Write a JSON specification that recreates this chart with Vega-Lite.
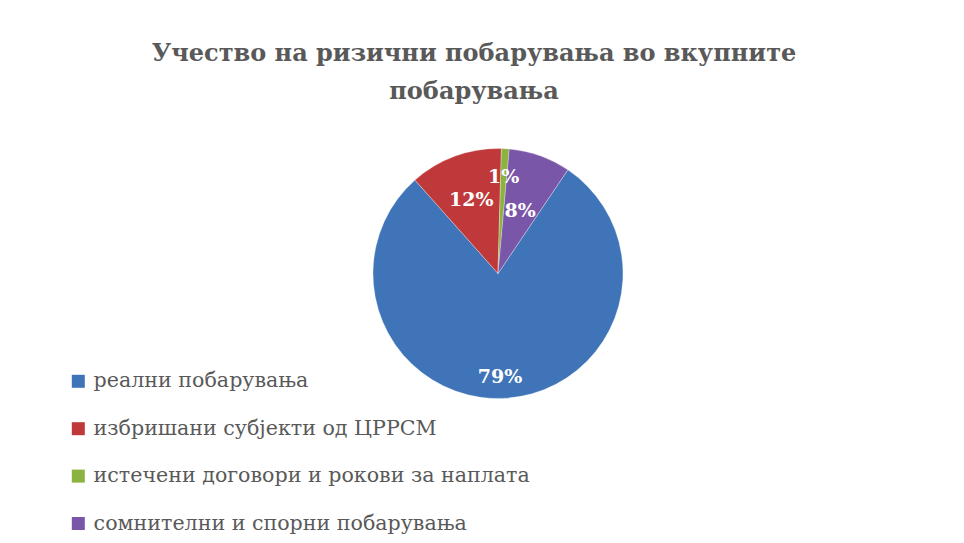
{
  "$schema": "https://vega.github.io/schema/vega-lite/v6.json",
  "width": 946,
  "height": 539,
  "autosize": "none",
  "padding": {"left": 25, "top": 4, "right": 0, "bottom": 0},
  "background": "white",
  "config": {"view": {"stroke": null}},
  "title": {
    "text": ["Учество на ризични побарувања во вкупните", "побарувања"],
    "font": "DejaVu Serif",
    "fontSize": 24,
    "fontWeight": "bold",
    "color": "#595959",
    "lineHeight": 38,
    "anchor": "middle",
    "baseline": "top",
    "offset": -100,
    "dx": -24
  },
  "data": {
    "values": [
      {"category": "реални побарувања", "value": 79, "label": "79%", "order": 1},
      {"category": "избришани субјекти од ЦРРСМ", "value": 12, "label": "12%", "order": 2},
      {"category": "истечени договори и рокови за наплата", "value": 1, "label": "1%", "order": 3},
      {"category": "сомнителни и спорни побарувања", "value": 8, "label": "8%", "order": 4}
    ]
  },
  "encoding": {
    "theta": {"field": "value", "type": "quantitative", "stack": true, "scale": {"range": [0.593, 6.876]}},
    "order": {"field": "order", "type": "quantitative"}
  },
  "layer": [
    {
      "mark": {"type": "arc", "outerRadius": 125, "stroke": "#ffffff", "strokeWidth": 0.6, "strokeOpacity": 0.5},
      "encoding": {
        "color": {
          "field": "category",
          "type": "nominal",
          "scale": {
            "domain": ["реални побарувања", "избришани субјекти од ЦРРСМ", "истечени договори и рокови за наплата", "сомнителни и спорни побарувања"],
            "range": ["#3f74b8", "#c0393a", "#8cb23f", "#7a56a8"]
          },
          "legend": {
            "title": null,
            "orient": "none",
            "legendX": 43,
            "legendY": 367,
            "symbolType": "square",
            "symbolSize": 169,
            "symbolStrokeWidth": 0,
            "labelFont": "DejaVu Serif",
            "labelFontSize": 20.6,
            "labelColor": "#595959",
            "labelOffset": 5,
            "labelLimit": 600,
            "rowPadding": 26.4
          }
        }
      }
    },
    {
      "mark": {"type": "text", "radius": 104, "font": "DejaVu Serif", "fontWeight": "bold", "fontSize": 19, "color": "white", "align": "center", "baseline": "middle", "dx": -5},
      "encoding": {"text": {"condition": {"test": "datum.order === 1", "field": "label"}, "value": ""}}
    },
    {
      "mark": {"type": "text", "radius": 78, "font": "DejaVu Serif", "fontWeight": "bold", "fontSize": 19, "color": "white", "align": "center", "baseline": "middle"},
      "encoding": {"text": {"condition": {"test": "datum.order === 2", "field": "label"}, "value": ""}}
    },
    {
      "mark": {"type": "text", "radius": 97, "font": "DejaVu Serif", "fontWeight": "bold", "fontSize": 19, "color": "white", "align": "center", "baseline": "middle"},
      "encoding": {"text": {"condition": {"test": "datum.order === 3", "field": "label"}, "value": ""}}
    },
    {
      "mark": {"type": "text", "radius": 66, "font": "DejaVu Serif", "fontWeight": "bold", "fontSize": 19, "color": "white", "align": "center", "baseline": "middle"},
      "encoding": {"text": {"condition": {"test": "datum.order === 4", "field": "label"}, "value": ""}}
    }
  ]
}
